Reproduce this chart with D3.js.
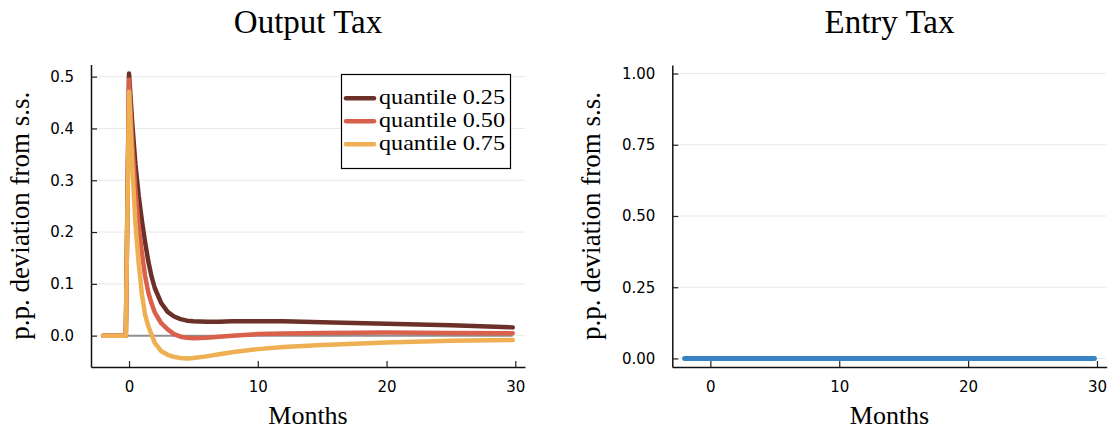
<!DOCTYPE html>
<html><head><meta charset="utf-8">
<script src="https://cdn.jsdelivr.net/npm/d3@7"></script>
<style>
body{margin:0;background:#fff;}
svg{display:block;}
.tick text{font-family:"DejaVu Sans",sans-serif;font-size:15px;fill:#000;}
.serif{font-family:"Liberation Serif","Times New Roman",serif;fill:#000;}
</style></head>
<body><svg id="chart" width="1112" height="430"></svg>
<script>
// ---------- data ----------
const months = [-2, -0.25, 0, 0.25, 0.5, 0.75, 1, 1.25, 1.5, 1.75, 2, 2.5, 3, 3.5, 4, 4.5, 5, 6, 7, 8, 10, 12, 15, 20, 25, 29.8];
const q25 = [0, 0, 0.506, 0.41, 0.33, 0.27, 0.222, 0.18, 0.143, 0.114, 0.092, 0.063, 0.046, 0.037, 0.032, 0.029, 0.028, 0.027, 0.027, 0.028, 0.028, 0.028, 0.026, 0.023, 0.020, 0.016];
const q50 = [0, 0, 0.494, 0.37, 0.28, 0.21, 0.16, 0.115, 0.083, 0.062, 0.045, 0.024, 0.012, 0.003, -0.002, -0.004, -0.005, -0.004, -0.002, 0.0, 0.003, 0.004, 0.005, 0.006, 0.005, 0.0045];
const q75 = [0, 0, 0.471, 0.33, 0.215, 0.14, 0.08, 0.04, 0.018, 0.002, -0.014, -0.03, -0.037, -0.041, -0.043, -0.044, -0.043, -0.040, -0.036, -0.032, -0.026, -0.022, -0.018, -0.013, -0.010, -0.0085];
const zeroLine = [0, 0, 0, 0, 0, 0, 0, 0, 0, 0, 0, 0, 0, 0, 0, 0, 0, 0, 0, 0, 0, 0, 0, 0, 0, 0];
const entryTax = [0, 0, 0, 0, 0, 0, 0, 0, 0, 0, 0, 0, 0, 0, 0, 0, 0, 0, 0, 0, 0, 0, 0, 0, 0, 0];
const seriesNames = ["quantile 0.25", "quantile 0.50", "quantile 0.75"];
const seriesColors = ["#6b3128", "#d9604b", "#eeb052"];
const xTicks = [0, 10, 20, 30];
const yTicksLeft = [0, 0.1, 0.2, 0.3, 0.4, 0.5];
const yTicksRight = [0, 0.25, 0.5, 0.75, 1.0];
const titles = ["Output Tax", "Entry Tax"];
const xLabel = "Months";
const yLabel = "p.p. deviation from s.s.";

// ---------- drawing ----------
const svg = d3.select("#chart");

function panel(opts){
  const {left, right, top, bottom, xDomain, yDomain, yTicks, yFmt, title, ylabX} = opts;
  const x = d3.scaleLinear().domain(xDomain).range([left, right]);
  const y = d3.scaleLinear().domain(yDomain).range([bottom, top]);
  const g = svg.append("g");
  g.append("g").selectAll("line").data(yTicks).join("line")
    .attr("x1", left).attr("x2", right)
    .attr("y1", d => y(d)).attr("y2", d => y(d))
    .attr("stroke", "#e9e9e9").attr("stroke-width", 1);
  const ax = g.append("g").attr("transform", `translate(0,${bottom})`)
    .call(d3.axisBottom(x).tickValues(xTicks).tickFormat(d3.format("d"))
      .tickSizeInner(-6).tickSizeOuter(0).tickPadding(14));
  const ay = g.append("g").attr("transform", `translate(${left},0)`)
    .call(d3.axisLeft(y).tickValues(yTicks).tickFormat(d3.format(yFmt))
      .tickSizeInner(-6).tickSizeOuter(0).tickPadding(17));
  [ax, ay].forEach(a => {
    a.attr("font-family", null).attr("font-size", null);
    a.select(".domain").attr("stroke", "#111").attr("stroke-width", 1.5);
    a.selectAll(".tick line").attr("stroke", "#222").attr("stroke-width", 1.2);
  });
  svg.append("text").attr("class", "serif")
    .attr("x", (left + right) / 2).attr("y", 33)
    .attr("text-anchor", "middle").attr("font-size", 33).text(title);
  svg.append("text").attr("class", "serif")
    .attr("x", (left + right) / 2).attr("y", 423.5)
    .attr("text-anchor", "middle").attr("font-size", 26).text(xLabel);
  svg.append("text").attr("class", "serif")
    .attr("transform", `translate(${ylabX},${(top + bottom) / 2}) rotate(-90)`)
    .attr("text-anchor", "middle").attr("font-size", 27).text(yLabel);
  return {x, y, g};
}

// Left panel
const L = panel({left: 91, right: 525, top: 64.5, bottom: 367,
  xDomain: [-2.954, 30.754], yDomain: [-0.0605, 0.5235],
  yTicks: yTicksLeft, yFmt: ".1f", title: titles[0], ylabX: 29});
const lineL = d3.line().x((d, i) => L.x(months[i])).y(d => L.y(d));
L.g.append("path").datum(zeroLine).attr("d", lineL)
  .attr("fill", "none").attr("stroke", "#8f8f8f").attr("stroke-width", 2);
[q25, q50, q75].forEach((s, k) => {
  L.g.append("path").datum(s).attr("d", lineL)
    .attr("fill", "none").attr("stroke", seriesColors[k]).attr("stroke-width", 4.5)
    .attr("stroke-linecap", "round").attr("stroke-linejoin", "round");
});
// legend
const leg = svg.append("g");
leg.append("rect").attr("x", 341.5).attr("y", 74.5).attr("width", 169).attr("height", 94)
  .attr("fill", "#fff").attr("stroke", "#000").attr("stroke-width", 1.2);
seriesNames.forEach((n, k) => {
  const cy = 98.3 + k * 23;
  leg.append("line").attr("x1", 346).attr("x2", 374).attr("y1", cy).attr("y2", cy)
    .attr("stroke", seriesColors[k]).attr("stroke-width", 4.5).attr("stroke-linecap", "round");
  leg.append("text").attr("class", "serif").attr("x", 379).attr("y", cy + 6)
    .attr("font-size", 22).attr("textLength", 126).attr("lengthAdjust", "spacingAndGlyphs").text(n);
});

// Right panel
const R = panel({left: 672.3, right: 1106.7, top: 65, bottom: 367,
  xDomain: [-2.954, 30.754], yDomain: [-0.03, 1.03],
  yTicks: yTicksRight, yFmt: ".2f", title: titles[1], ylabX: 600});
const lineR = d3.line().x((d, i) => R.x(months[i])).y(d => R.y(d));
R.g.append("path").datum(entryTax).attr("d", lineR)
  .attr("fill", "none").attr("stroke", "#3783c3").attr("stroke-width", 5)
  .attr("stroke-linecap", "round");
</script></body></html>
